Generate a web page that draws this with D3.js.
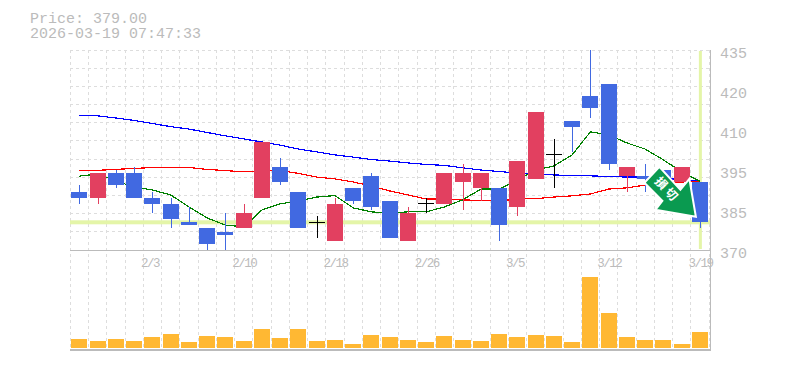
<!DOCTYPE html>
<html>
<head>
<meta charset="utf-8">
<script src="https://cdn.jsdelivr.net/npm/d3@7"></script>
<style>
  html, body { margin: 0; padding: 0; background: #fff; }
  svg { display: block; }
  text { font-family: "Liberation Mono", "DejaVu Sans Mono", monospace; fill: #bbb; }
</style>
</head>
<body>
<svg id="chart" width="785" height="370"></svg>
<script>
const dates = ['1/28','1/29','1/30','2/2','2/3','2/4','2/5','2/6','2/9','2/10','2/12','2/13','2/16','2/17','2/18','2/19','2/20','2/24','2/25','2/26','2/27','3/2','3/3','3/4','3/5','3/6','3/9','3/10','3/11','3/12','3/13','3/16','3/17','3/18','3/19'];
const opens = [389,387,395,395,387,385,379,377,376,377,387,397,389,379,373,390,394,386,373,385,385,392,390,390,384,393,401,412,420,424,394,394,396,392,392];
const closes = [387,395,391,387,385,380,378,372,375,382,405,392,377,379,385,386,384,374,382,385,395,395,395,378,399,415,401,410,416,398,397,393,392,397,379];
const highs = [391,395,396,397,389,387,384,377,382,385,405,400,389,381,387,390,395,386,384,387,395,398,395,390,399,415,406,412,435,424,397,398,396,397,392];
const lows = [385,385,390,387,382,377,378,370,370,377,387,391,377,374,373,385,383,374,373,382,385,383,386,373,381,393,390,402,413,396,389,389,392,392,377];
const volumes = [900,700,900,700,1100,1400,600,1200,1100,700,1900,1000,1900,700,800,400,1300,1100,800,600,1200,800,700,1400,1100,1300,1200,600,7100,3500,1100,800,800,400,1600];
const maLong = [413.6,413.6,412.9,412.1,411.1,410.1,409.3,408.2,407.1,406.1,405.1,404.1,402.8,401.9,400.9,400.2,399.4,398.9,398.3,397.8,397.5,396.7,396.0,395.5,395.0,394.5,394.4,394.2,394.1,393.9,393.7,393.7,393.4,392.8,392.4];
const maMid = [395.9,395.9,396.2,396.5,396.8,396.8,396.8,396.2,395.8,395.4,395.7,395.8,394.9,393.7,393.1,392.1,390.8,389.2,387.9,386.6,386.6,386.3,386.1,385.9,386.6,386.7,387.2,387.6,388.2,389.8,390.2,391.1,391.5,392.1,392.3];
const maShort = [394.0,394.7,392.4,390.5,389.5,387.9,384.0,380.4,378.1,377.5,383.0,385.0,385.9,387.2,387.7,383.7,382.4,382.0,382.4,382.4,384.0,386.3,389.8,389.8,392.8,396.0,397.3,400.9,408.4,407.4,404.8,402.8,399.3,395.4,392.4];
const priceTicks = [435,422,409,396,383,370];
const priceLabels = ['435','420','410','395','385','370'];
const dateTicks = ['2/3','2/10','2/18','2/26','3/5','3/12','3/19'];
const currentPrice = 379;
const priceText = 'Price: 379.00';
const stampText = '2026-03-19 07:47:33';
const signalText = '損切';

const svg = d3.select('#chart');

const plotLeft = 70, plotRight = 710, plotTop = 50, plotMid = 250, plotBottom = 350, volBase = 348;

const x = d3.scaleBand().domain(dates).range([plotLeft + 0.3, plotRight - 1]).paddingInner(0);
const y = d3.scaleLinear().domain([370, 435]).range([plotMid, plotTop]);
const yVol = d3.scaleLinear().domain([0, 7100]).range([volBase, 277]);
const cx = d => x(d) + x.bandwidth() / 2;
const bodyWidth = 16;

const upColor = '#e24060', downColor = '#4169e1', flatColor = '#000';
const bandColor = '#e4f5a8', gridColor = '#ddd', frameColor = '#bbb';

function candleColor(i) {
  if (opens[i] === closes[i]) return flatColor;
  return closes[i] > opens[i] ? upColor : downColor;
}

// grid
const grid = svg.append('g').attr('stroke', gridColor).attr('stroke-dasharray', '3,3').attr('shape-rendering', 'crispEdges');
d3.range(11).forEach(i => {
  const gy = plotTop + i * (plotMid - plotTop) / 11;
  grid.append('line').attr('x1', plotLeft).attr('x2', plotRight).attr('y1', gy).attr('y2', gy);
});
dates.forEach(d => {
  grid.append('line').attr('x1', x(d)).attr('x2', x(d)).attr('y1', plotTop).attr('y2', plotBottom);
});
grid.append('line').attr('x1', x.range()[1]).attr('x2', x.range()[1]).attr('y1', plotTop).attr('y2', plotBottom);

// current price bands
svg.append('rect').attr('x', plotLeft).attr('width', plotRight - plotLeft).attr('y', y(currentPrice) - 2).attr('height', 4).attr('fill', bandColor);
svg.append('rect').attr('x', cx('3/19') - 1).attr('width', 3).attr('y', plotTop + 1).attr('height', plotMid - plotTop - 2).attr('fill', bandColor);

// frame
svg.append('g').attr('stroke', frameColor).attr('shape-rendering', 'crispEdges').call(g => {
  g.append('line').attr('x1', plotLeft).attr('x2', plotRight).attr('y1', plotMid).attr('y2', plotMid);
  g.append('line').attr('x1', plotLeft).attr('x2', plotRight + 0.5).attr('y1', plotBottom).attr('y2', plotBottom).attr('stroke-width', 2);
  g.append('line').attr('x1', plotRight).attr('x2', plotRight).attr('y1', plotTop).attr('y2', plotBottom).attr('stroke-width', 1);
});

// moving averages
const lineGen = d3.line().x((v, i) => cx(dates[i])).y(v => y(v));
[[maLong, '#0000ff'], [maMid, '#ff0000'], [maShort, '#008000']].forEach(([vals, color]) => {
  svg.append('path')
    .attr('d', lineGen(vals))
    .attr('fill', 'none')
    .attr('stroke', color)
    .attr('stroke-width', 1.2)
    .attr('shape-rendering', 'crispEdges');
});

// candles
const candles = svg.append('g').attr('shape-rendering', 'crispEdges');
dates.forEach((d, i) => {
  const color = candleColor(i);
  candles.append('line')
    .attr('x1', Math.round(cx(d)) + 0.5).attr('x2', Math.round(cx(d)) + 0.5)
    .attr('y1', y(highs[i])).attr('y2', y(lows[i]))
    .attr('stroke', color);
  if (opens[i] === closes[i]) {
    candles.append('line')
      .attr('x1', cx(d) - bodyWidth / 2).attr('x2', cx(d) + bodyWidth / 2)
      .attr('y1', y(closes[i])).attr('y2', y(closes[i]))
      .attr('stroke', color);
  } else {
    candles.append('rect')
      .attr('x', cx(d) - bodyWidth / 2).attr('width', bodyWidth)
      .attr('y', y(Math.max(opens[i], closes[i])))
      .attr('height', Math.abs(y(opens[i]) - y(closes[i])))
      .attr('fill', color);
  }
});

// volume
svg.append('g').selectAll('rect').data(volumes).enter().append('rect')
  .attr('x', (v, i) => cx(dates[i]) - bodyWidth / 2)
  .attr('width', bodyWidth)
  .attr('y', v => yVol(v))
  .attr('height', v => volBase - yVol(v))
  .attr('fill', '#ffb833')
  .attr('shape-rendering', 'crispEdges');

// signal arrow, hung off the last close
const arrowPts = [[-36.5, -50], [-51.5, -34], [-33.5, -16], [-40.5, -7], [0, 0], [-6.5, -38], [-15.5, -27]];
const arrow = svg.append('g')
  .attr('transform', `translate(${cx('3/19') - 4},${y(currentPrice) - 5.5})`);
arrow.append('polygon')
  .attr('points', arrowPts.join(' '))
  .attr('fill', '#0a9a50')
  .attr('stroke', '#fff')
  .attr('stroke-width', 2)
  .attr('stroke-linejoin', 'miter');
arrow.append('text')
  .attr('transform', 'translate(-28.5,-27) rotate(47)')
  .attr('text-anchor', 'middle')
  .attr('dy', '0.36em')
  .style('font-family', '"Noto Sans CJK JP"')
  .style('font-weight', '700')
  .style('font-size', '12px')
  .style('letter-spacing', '3px')
  .style('fill', '#fff')
  .text(signalText);

// labels
const header = svg.append('text').style('font-size', '15px');
header.append('tspan').attr('x', 30).attr('y', 23).text(priceText);
header.append('tspan').attr('x', 30).attr('y', 38).text(stampText);

priceTicks.forEach((t, i) => {
  svg.append('text').attr('x', 720).attr('y', y(t) + 7.5).style('font-size', '15px').text(priceLabels[i]);
});

dateTicks.forEach(d => {
  svg.append('text')
    .attr('x', cx(d) - 11.5).attr('y', 266.5)
    .style('font-size', '12.5px')
    .style('letter-spacing', '-1.5px')
    .text(d);
});
</script>
</body>
</html>
